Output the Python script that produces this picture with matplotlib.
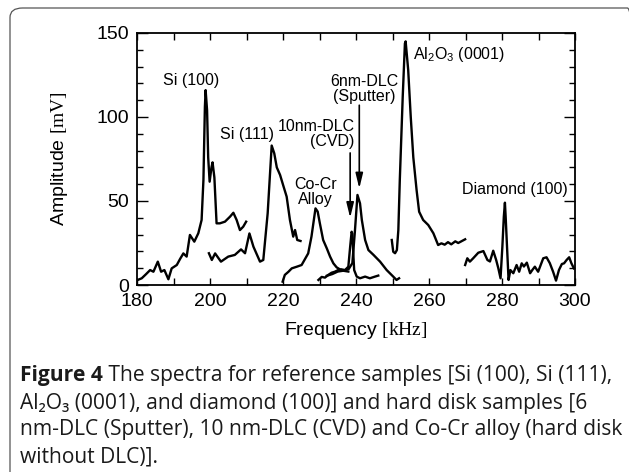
import matplotlib
matplotlib.use("Agg")
import matplotlib.pyplot as plt
from matplotlib.patches import FancyBboxPatch
from matplotlib.ticker import MultipleLocator

plt.rcParams['font.family'] = ['Liberation Sans', 'DejaVu Sans']
plt.rcParams['mathtext.fontset'] = 'custom'
plt.rcParams['mathtext.rm'] = 'Liberation Serif'
plt.rcParams['mathtext.sf'] = 'Liberation Sans'

# ---------------- data ----------------
si100_x = [180.2, 181.3, 182.5, 183.6, 184.5, 185.7, 186.6, 187.5, 188.6, 189.5, 190.9, 191.8,
           192.7, 193.6, 194.5, 195.7, 196.8, 197.7, 198.2, 198.6, 198.8, 199.2, 199.5, 199.9,
           200.4, 200.7, 201.2, 201.8, 202.7, 204.1, 205.5, 206.4, 207.3, 208.2, 209.1, 209.9]
si100_y = [3.0, 4.0, 6.5, 8.9, 7.9, 13.9, 7.9, 8.9, 3.4, 9.9, 11.9, 15.5,
           18.8, 16.9, 29.8, 25.8, 30.8, 38.7, 62.5, 106, 116, 104, 76, 61.5,
           70, 73, 64, 36.7, 36.7, 37.7, 40.7, 43, 38.7, 32.7, 34.7, 37.7]

si111_x = [199.7, 200.5, 201.4, 203.0, 205.0, 206.8, 208.5, 209.6, 210.8, 211.9, 213.7, 214.6,
           215.8, 216.9, 217.6, 218.3, 219.2, 220.1, 221.0, 221.9, 222.8, 223.3, 223.9, 224.8]
si111_y = [18.9, 14.9, 18.8, 13.9, 16.9, 17.9, 21.2, 18.9, 30.7, 22.8, 13.9, 14.9,
           42.7, 83, 78.4, 70, 65.5, 59, 52.6, 38.7, 28.8, 32.7, 26.8, 26.2]

cocr_x = [219.9, 220.5, 221.5, 222.4, 223.8, 225.1, 226.9, 227.8, 228.9, 229.5, 230.1, 231.0,
          232.0, 232.9, 233.8, 234.7, 235.6, 236.5, 237.9]
cocr_y = [2, 6, 7.9, 9.9, 10.9, 11.9, 18.8, 28.8, 45.6, 43.7, 36.7, 26.8,
          21.8, 16.9, 12.9, 10.5, 9.3, 8.5, 8.0]

cvd_x = [229.7, 230.6, 231.5, 232.4, 233.3, 234.2, 235.1, 236.0, 237.0, 237.9, 238.4, 238.8,
         239.0, 239.3, 239.5, 240.2, 241.1, 242.5, 243.8, 245.2, 246.1]
cvd_y = [3, 4.8, 4.4, 6, 7.3, 7.9, 8.9, 9.3, 8.9, 10.9, 22.8, 31.7,
         30.5, 16.9, 8.9, 5, 4, 5, 4, 5, 5.6]

sputter_x = [232.0, 233.5, 235.0, 236.5, 238.0, 239.0, 239.7, 240.4, 241.1, 241.6, 242.5, 243.4,
             244.8, 246.6, 248.4, 250.2, 251.1, 251.8]
sputter_y = [5.5, 6.5, 8.0, 8.5, 9.5, 13, 32, 53.6, 48.6, 38.7, 26.8, 20.8,
             17.9, 13.9, 8.9, 5, 3, 4]

al2o3_x = [249.8, 250.2, 250.7, 251.2, 251.6, 252.0, 252.8, 253.4, 253.6, 254.3, 255.0, 255.7,
           256.6, 257.3, 258.4, 259.8, 261.2, 262.5, 263.4, 264.3, 265.2, 266.1, 267.2, 268.0, 269.9]
al2o3_y = [26.8, 19.8, 18.9, 20.8, 32.7, 62.5, 112, 143.8, 145, 128, 100, 76,
           56.5, 43.6, 38.7, 35.7, 30.8, 23.8, 24.8, 24.0, 25.5, 24.2, 26.0, 25.0, 27.2]

diamond_x = [269.9, 270.5, 271.2, 272.1, 273.5, 274.9, 276.0, 276.7, 277.6, 278.4, 279.0, 279.6,
             280.1, 280.5, 280.8, 281.0, 281.5, 281.8, 282.3, 283.1, 284.0, 284.7, 285.4, 286.0,
             286.8, 287.7, 288.3, 289.0, 289.9, 291.3, 292.2, 293.1, 294.0, 294.8, 295.6, 296.4,
             297.0, 297.7, 298.4, 299.0, 299.7]
diamond_y = [11.9, 15.9, 13.9, 15.9, 19.2, 20.2, 14.9, 14.0, 20.4, 14.9, 9.9, 4.0,
             22.8, 40.7, 49.0, 40.7, 16.9, 3.0, 8.9, 7.0, 11.9, 7.9, 12.9, 11.0,
             13.3, 7.0, 8.9, 10.9, 7.9, 15.9, 16.5, 13.0, 7.9, 2.6, 8.9, 12.5,
             12.9, 14.9, 16.5, 13.0, 9.9]

x_ticks = [180, 200, 220, 240, 260, 280, 300]
y_ticks = [0, 50, 100, 150]

labels = {
    'si100': 'Si (100)',
    'si111': 'Si (111)',
    'cvd': '10nm-DLC\n(CVD)',
    'sputter': '6nm-DLC\n(Sputter)',
    'cocr': 'Co-Cr\nAlloy',
    'al2o3': r'Al$_\mathsf{2}$O$_\mathsf{3}$ (0001)',
    'diamond': 'Diamond (100)',
}

# ---------------- figure ----------------
W, H = 629, 472
fig = plt.figure(figsize=(W / 100, H / 100), dpi=100)

# rounded frame (cropped on right/bottom)
frame = FancyBboxPatch((10 / W, -20 / H), (640 - 10) / W, (H - 8 + 20) / H,
                       boxstyle="round,pad=0,rounding_size=0.02",
                       transform=fig.transFigure, fill=False, edgecolor='#555555',
                       linewidth=0.9, clip_on=False)
fig.patches.append(frame)

ax = fig.add_axes([137 / W, 1 - 285 / H, (575 - 137) / W, (285 - 33) / H])

lw = 1.7
for xs, ys in [(si100_x, si100_y), (si111_x, si111_y), (cocr_x, cocr_y), (cvd_x, cvd_y),
               (sputter_x, sputter_y), (al2o3_x, al2o3_y), (diamond_x, diamond_y)]:
    ax.plot(xs, ys, color='black', lw=lw, solid_joinstyle='round')

ax.set_xlim(180, 300)
ax.set_ylim(0, 150)
ax.set_xticks(x_ticks)
ax.set_yticks(y_ticks)
ax.xaxis.set_minor_locator(MultipleLocator(10))
ax.yaxis.set_minor_locator(MultipleLocator(10))
ax.tick_params(which='both', direction='in', top=True, right=True, width=1.0,
               labelsize=14)
ax.tick_params(axis='x', which='both', length=5, pad=6)
ax.tick_params(axis='y', which='major', length=8, pad=6)
ax.tick_params(axis='y', which='minor', length=4)
for s in ax.spines.values():
    s.set_linewidth(1.3)

ax.set_xlabel(r'Frequency $[\mathrm{kHz}]$', fontsize=14, labelpad=7)
ax.set_ylabel(r'Amplitude $[\mathrm{mV}]$', fontsize=14, labelpad=19)

fs = 11.5
ax.text(194.8, 122, labels['si100'], fontsize=fs, ha='center', va='center')
ax.text(210.2, 89.3, labels['si111'], fontsize=fs, ha='center', va='center')
ax.text(239.6, 90, labels['cvd'], fontsize=fs, ha='right', va='center',
        multialignment='right', linespacing=1.0)
ax.text(233.0, 116.4, labels['sputter'], fontsize=fs, ha='left', va='center',
        multialignment='center', linespacing=1.0)
ax.text(228.8, 55.5, labels['cocr'], fontsize=fs, ha='center', va='center',
        multialignment='center', linespacing=1.0)
ax.text(255.7, 137, labels['al2o3'], fontsize=fs, ha='left', va='center')
ax.text(283.6, 57.1, labels['diamond'], fontsize=fs, ha='center', va='center')

arrow_kw = dict(arrowstyle='-|>,head_length=0.9,head_width=0.22', color='black',
                lw=1.2, shrinkA=0, shrinkB=0)
ax.annotate('', xy=(238.4, 40), xytext=(238.4, 78.6), arrowprops=arrow_kw)
ax.annotate('', xy=(240.9, 57.5), xytext=(240.9, 107), arrowprops=arrow_kw)

# ---------------- caption ----------------
cap_font = ['Open Sans', 'DejaVu Sans']
cap_fs = 15.1
cap_lines = [
    (' The spectra for reference samples [Si (100), Si (111),', 376),
    ('Al\u2082O\u2083 (0001), and diamond (100)] and hard disk samples [6', 403),
    ('nm-DLC (Sputter), 10 nm-DLC (CVD) and Co-Cr alloy (hard disk', 430),
    ('without DLC)].', 457),
]
fig.canvas.draw()
renderer = fig.canvas.get_renderer()
t0 = fig.text(20 / W, 1 - cap_lines[0][1] / H, 'Figure 4', family=cap_font, fontsize=cap_fs,
              fontweight='bold', va='center', ha='left', color='#1a1a1a')
bb = t0.get_window_extent(renderer=renderer)
fig.text(bb.x1 / W, 1 - cap_lines[0][1] / H, cap_lines[0][0], family=cap_font,
         fontsize=cap_fs, va='center', ha='left', color='#1a1a1a')
for txt, yp in cap_lines[1:]:
    fig.text(20 / W, 1 - yp / H, txt, family=cap_font, fontsize=cap_fs,
             va='center', ha='left', color='#1a1a1a')

fig.savefig('out.png', dpi=100)
